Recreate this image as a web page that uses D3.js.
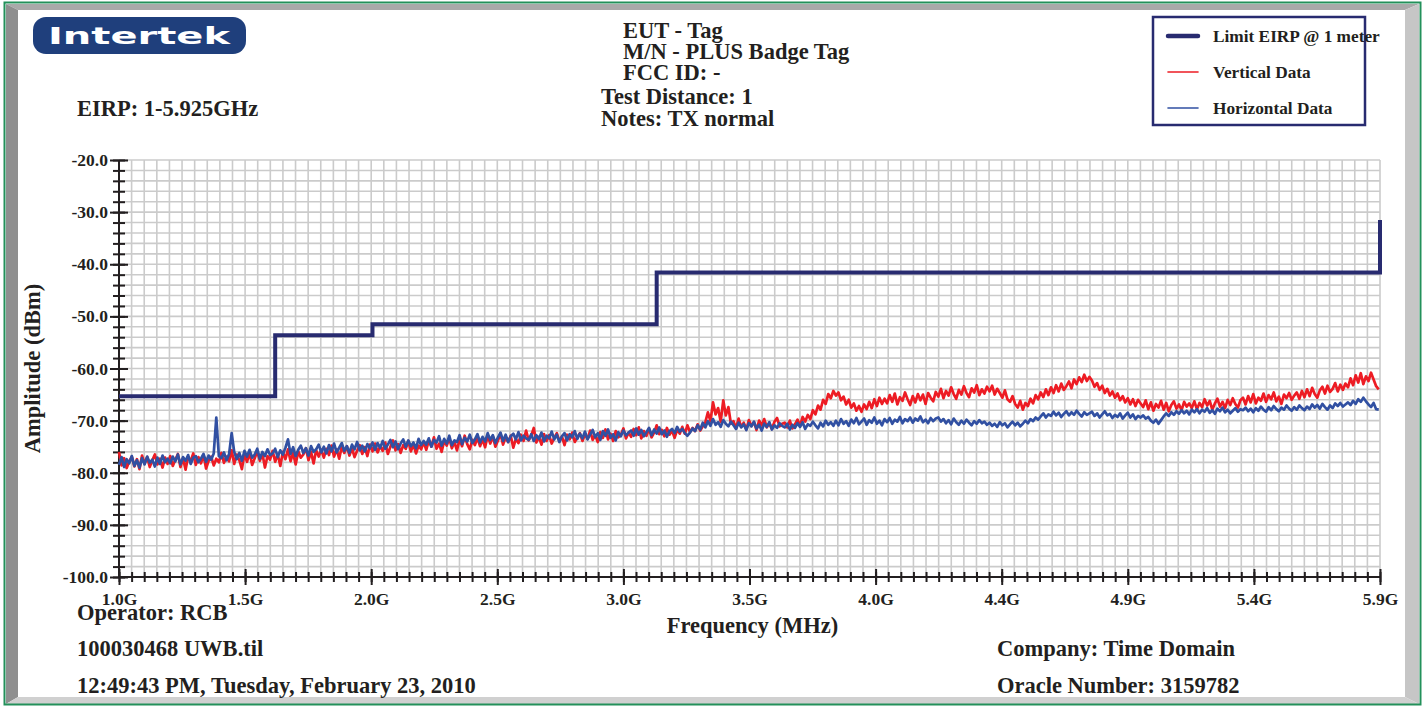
<!DOCTYPE html>
<html>
<head>
<meta charset="utf-8">
<script src="https://cdn.jsdelivr.net/npm/d3@7"></script>
<style>
body { margin: 0; background: #fff; }
svg { display: block; }
text { font-family: "Liberation Serif", "Times New Roman", serif; font-weight: bold; fill: #231f20; }
</style>
</head>
<body>
<script>
// sweep: 1.00 GHz .. 5.92 GHz, one reading every 10 MHz (one row = 200 MHz)
var freqStart = 1.0, freqStep = 0.01;

var verticalData = [
    -76.0, -78.6, -77.2, -79.1, -77.8, -76.9, -78.8, -77.4, -79.3, -76.7, -78.2, -77.0, -78.9, -77.6, -76.5, -78.4, -77.3, -79.0, -77.1, -78.3,
    -76.8, -78.7, -77.5, -76.4, -78.9, -77.2, -79.4, -76.9, -77.8, -76.3, -78.5, -77.0, -78.2, -76.6, -79.2, -77.7, -76.9, -78.6, -77.3, -78.0,
    -76.2, -78.1, -76.9, -77.8, -75.7, -78.3, -76.5, -77.6, -79.3, -76.4, -77.9, -76.1, -78.5, -77.2, -75.9, -77.7, -76.3, -79.0, -76.8, -77.5,
    -75.8, -77.9, -76.4, -78.7, -76.0, -77.4, -75.5, -77.8, -76.2, -78.4, -75.9, -77.1, -76.5, -75.3, -77.6, -76.0, -78.2, -75.7, -76.9, -75.6,
    -77.1, -75.4, -76.6, -74.8, -76.9, -75.5, -77.3, -75.0, -76.2, -74.9, -76.7, -75.3, -77.0, -75.8, -74.7, -76.4, -75.1, -76.8, -74.6, -75.9,
    -74.4, -76.1, -74.9, -75.8, -74.2, -76.4, -75.0, -73.8, -75.7, -74.5, -76.2, -74.7, -75.4, -73.9, -75.9, -74.6, -76.3, -74.8, -75.5, -74.1,
    -75.6, -73.8, -75.0, -73.2, -75.4, -74.4, -76.0, -73.9, -74.8, -73.4, -75.3, -74.1, -75.7, -73.6, -74.9, -72.9, -74.5, -75.5, -73.7, -74.7,
    -73.3, -74.9, -73.6, -75.1, -72.8, -74.4, -73.0, -75.0, -73.8, -72.5, -74.6, -73.2, -74.1, -72.9, -75.2, -73.5, -74.3, -72.7, -73.9, -71.9,
    -73.8, -72.9, -71.4, -74.2, -73.1, -74.6, -72.6, -73.9, -72.8, -74.4, -73.3, -72.4, -74.0, -73.0, -74.7, -72.7, -73.6, -72.3, -74.1, -73.2,
    -72.4, -73.9, -72.6, -73.5, -71.9, -73.7, -72.8, -74.1, -72.2, -73.3, -71.7, -73.6, -72.5, -73.9, -72.0, -73.2, -72.7, -71.5, -73.4, -72.3,
    -73.1, -71.6, -72.8, -71.3, -73.4, -72.0, -72.9, -71.5, -73.2, -72.3, -70.9, -72.6, -71.8, -73.0, -71.4, -72.7, -71.9, -73.3, -71.7, -72.5,
    -71.2, -72.5, -70.9, -72.2, -71.4, -72.0, -70.7, -71.9, -71.1, -70.3, -68.4, -70.1, -66.5, -68.8, -67.6, -70.2, -66.1, -69.0, -67.4, -70.6,
    -70.1, -71.5, -69.6, -71.2, -70.4, -71.7, -69.9, -71.0, -70.3, -71.8, -70.0, -70.9, -69.7, -71.3, -70.5, -71.6, -70.2, -69.5, -71.1, -70.6,
    -70.4, -71.3, -70.0, -71.5, -70.7, -69.8, -71.0, -69.3, -70.2, -68.9, -69.7, -68.0, -68.8, -67.1, -67.9, -66.0, -66.8, -64.9, -65.7, -64.3,
    -65.2, -64.6, -66.1, -65.4, -66.9, -66.0, -67.5, -66.7, -68.1, -67.2, -68.3, -66.9, -67.8, -66.4, -67.6, -65.9, -67.2, -65.6, -66.8, -65.8,
    -66.7, -65.1, -66.4, -64.8, -66.9, -65.5, -66.2, -64.6, -65.9, -67.0, -65.3, -66.5, -64.9, -66.1, -65.0, -66.8, -64.7, -65.6, -66.3, -64.5,
    -65.4, -63.9, -65.7, -64.3, -65.2, -63.6, -64.9, -65.8, -64.1, -65.0, -63.4, -64.7, -65.5, -63.8, -64.6, -63.2, -65.1, -64.0, -64.8, -63.5,
    -64.4, -63.3, -65.0, -63.9, -64.7, -65.6, -64.2, -65.9, -66.4, -65.3, -66.8, -67.5, -66.2, -67.9, -66.6, -67.2, -65.8, -66.7, -65.1, -65.9,
    -64.6, -65.5, -64.0, -65.1, -63.6, -64.7, -63.2, -64.4, -62.9, -64.1, -63.4, -62.5, -63.8, -62.1, -63.0, -61.7, -62.6, -61.2, -62.4, -61.6,
    -62.3, -63.5, -62.8, -64.1, -63.3, -64.7, -63.9, -65.2, -64.4, -65.6, -64.8, -66.1, -65.3, -66.5, -65.7, -66.9, -65.9, -67.2, -66.0, -66.7,
    -67.4, -66.1, -67.8, -66.5, -68.1, -66.8, -67.5, -66.2, -67.9, -66.6, -68.2, -67.0, -66.3, -67.7, -66.9, -68.0, -66.4, -67.3, -66.7, -67.6,
    -66.3, -67.8, -66.6, -67.4, -65.9, -67.1, -66.2, -67.9, -66.7, -65.8, -67.3, -66.4, -67.6, -66.0, -67.0, -65.7, -66.8, -67.5, -66.1, -65.6,
    -66.9, -65.3, -66.5, -64.9, -66.7, -65.6, -66.2, -64.8, -66.4, -65.1, -65.9, -64.6, -66.3, -65.4, -66.8, -65.0, -65.7, -64.7, -66.0, -65.2,
    -64.6, -65.8, -64.3, -65.5, -64.0, -65.3, -63.7, -64.9, -65.6, -64.2, -63.5, -64.8, -63.3, -64.5, -63.9, -62.8, -64.4, -63.1, -64.1, -62.9,
    -63.6, -61.9, -63.2, -61.3, -62.7, -60.9, -63.0, -61.5, -62.4, -60.8, -62.1, -63.4, -64.0
];

var horizontalData = [
    -78.5, -77.0, -78.9, -77.4, -78.2, -76.8, -78.7, -77.6, -79.0, -77.2, -78.4, -76.9, -78.1, -77.5, -78.8, -77.1, -78.3, -76.7, -78.0, -77.3,
    -78.2, -76.9, -77.8, -76.5, -78.4, -77.0, -77.7, -76.6, -78.3, -77.1, -76.8, -78.0, -77.3, -76.4, -77.9, -76.7, -77.5, -76.3, -69.4, -76.8,
    -77.2, -76.1, -77.6, -76.4, -72.4, -76.0, -77.4, -76.2, -77.7, -75.8, -76.9, -75.6, -77.1, -76.5, -75.4, -77.3, -76.0, -76.8, -75.5, -76.6,
    -76.3, -75.4, -77.0, -75.7, -76.5, -75.2, -73.6, -76.4, -75.1, -76.8, -75.6, -74.8, -76.2, -75.3, -76.7, -74.9, -76.0, -75.5, -74.6, -76.1,
    -75.0, -76.3, -74.7, -75.9, -74.4, -76.1, -75.2, -74.3, -75.8, -74.9, -76.2, -74.6, -75.5, -74.1, -75.7, -74.8, -75.9, -74.5, -75.3, -74.2,
    -75.6, -74.3, -75.2, -73.9, -75.4, -74.6, -73.7, -75.1, -74.0, -75.5, -74.4, -73.6, -75.0, -73.8, -74.9, -74.2, -75.3, -73.5, -74.7, -73.9,
    -74.6, -73.4, -75.0, -73.7, -74.2, -73.0, -74.8, -73.5, -74.4, -72.9, -74.7, -73.8, -74.1, -72.8, -74.5, -73.3, -74.0, -72.7, -74.3, -73.6,
    -72.6, -74.2, -73.1, -74.0, -72.4, -73.7, -72.8, -74.3, -73.2, -72.3, -73.9, -72.7, -74.1, -73.0, -72.5, -73.6, -72.2, -73.8, -72.9, -73.4,
    -73.7, -72.6, -73.9, -72.8, -73.5, -72.3, -74.0, -72.9, -73.4, -72.1, -73.6, -72.7, -74.1, -73.0, -72.4, -73.8, -72.6, -73.2, -72.0, -73.5,
    -72.5, -73.4, -72.1, -73.6, -72.7, -71.8, -73.2, -72.4, -73.7, -72.0, -72.9, -71.7, -73.3, -72.6, -73.8, -72.2, -73.0, -71.9, -72.8, -72.3,
    -71.9, -72.9, -71.5, -72.7, -71.8, -73.0, -72.2, -71.4, -72.8, -71.7, -72.5, -71.3, -72.6, -71.9, -73.1, -72.0, -71.6, -72.4, -71.2, -72.1,
    -71.6, -72.4, -72.9, -72.3, -71.5, -72.0, -70.9, -71.7, -70.4, -71.3, -70.1, -71.0, -69.7, -70.8, -70.3, -71.2, -69.9, -70.6, -71.1, -70.2,
    -70.9, -71.6, -70.4, -71.3, -70.7, -71.8, -70.5, -71.1, -70.2, -71.5, -70.8, -71.9, -70.6, -71.2, -70.3, -71.7, -70.9, -71.4, -70.5, -71.0,
    -71.3, -70.6, -71.7, -70.8, -71.4, -70.5, -71.2, -70.3, -71.6, -70.7, -71.0, -70.2, -70.9, -71.5, -70.4, -71.1, -70.0, -70.8, -70.3, -71.0,
    -70.0, -70.9, -69.7, -70.6, -70.1, -71.0, -69.8, -70.5, -69.5, -70.7, -70.2, -69.6, -70.8, -69.9, -70.4, -69.4, -70.6, -70.0, -70.9, -69.7,
    -70.3, -69.5, -70.6, -69.8, -70.2, -69.3, -70.5, -69.7, -70.1, -69.4, -70.4, -69.6, -70.0, -69.2, -70.3, -69.8, -70.5, -69.5, -70.1, -69.6,
    -69.4, -70.2, -69.7, -70.5, -69.9, -70.7, -69.6, -70.3, -70.8, -70.0, -70.6, -69.8, -70.4, -70.9, -70.1, -70.6, -69.9, -70.5, -70.2, -70.8,
    -70.4, -71.0, -70.6, -71.2, -70.3, -70.9, -70.5, -71.3, -70.7, -70.2, -70.9, -70.4, -71.1, -70.6, -70.0, -70.5, -69.7, -70.1, -69.4, -69.8,
    -69.2, -68.6, -69.4, -68.8, -69.1, -68.3, -69.0, -68.5, -69.3, -68.7, -68.2, -69.0, -68.4, -68.9, -68.1, -68.7, -69.2, -68.4, -68.9, -68.6,
    -68.3, -69.1, -68.6, -69.4, -68.8, -68.2, -69.0, -68.7, -69.5, -68.9, -69.3, -68.6, -69.6, -69.0, -68.5, -69.4, -68.8, -69.7, -69.1, -69.4,
    -69.0, -69.6, -69.3, -70.0, -70.4, -69.8, -70.6, -69.9, -69.2, -68.6, -69.1, -68.4, -68.9, -68.2, -68.7, -68.0, -68.6, -68.1, -68.8, -67.9,
    -68.4, -67.8, -68.6, -67.9, -68.3, -67.6, -68.5, -68.0, -68.7, -67.7, -68.2, -67.5, -68.4, -67.9, -68.6, -68.1, -67.6, -68.3, -67.8, -68.0,
    -67.5, -68.2, -67.7, -68.4, -67.6, -68.1, -67.3, -67.9, -68.3, -67.4, -68.0, -67.2, -67.8, -68.2, -67.5, -67.9, -67.1, -67.7, -68.1, -67.4,
    -67.9, -67.1, -67.6, -68.0, -67.3, -67.8, -66.9, -67.5, -67.0, -67.7, -66.8, -67.4, -67.9, -67.1, -67.6, -66.7, -67.2, -66.6, -67.3, -66.9,
    -66.5, -67.0, -66.2, -66.8, -65.9, -66.4, -65.6, -66.3, -66.9, -67.4, -66.6, -67.8, -67.9
];

// limit EIRP @ 1 meter (stepped)
var limitFreq = [1.0, 1.61, 1.61, 1.99, 1.99, 3.1, 3.1, 5.925, 5.925];
var limitDb = [-65.3, -65.3, -53.6, -53.6, -51.5, -51.5, -41.6, -41.6, -31.5];

var freqMin = 1.0, freqMax = 5.925;
var ampMin = -100, ampMax = -20;

var headerLines = ["EUT - Tag", "M/N - PLUS Badge Tag", "FCC ID: -"];
var noteLines = ["Test Distance: 1", "Notes: TX normal"];
var legendNames = ["Limit EIRP @ 1 meter", "Vertical Data", "Horizontal Data"];

var W = 1427, H = 707;
var plot = {left: 119, right: 1380, top: 160, bottom: 577};
var bigFont = "22.5px";

var svg = d3.select("body").append("svg")
    .attr("width", W)
    .attr("height", H);

// frame
svg.append("rect").attr("width", W).attr("height", H).attr("fill", "#fff");
var bevel = [
    {pts: [[6,4],[1419,4],[1405,10],[18,10]], fill: "#a9a9a9"},
    {pts: [[6,4],[18,10],[18,697],[6,704]], fill: "#8f8f8f"},
    {pts: [[1419,4],[1419,704],[1405,697],[1405,10]], fill: "#c6c6c6"},
    {pts: [[6,704],[18,697],[1405,697],[1419,704]], fill: "#d0d0d0"}
];
svg.selectAll("polygon.bevel").data(bevel).enter().append("polygon")
    .attr("class", "bevel")
    .attr("points", function(d) { return d.pts.join(" "); })
    .attr("fill", function(d) { return d.fill; });
svg.append("rect")
    .attr("x", 4.5).attr("y", 2.5)
    .attr("width", 1416).attr("height", 702)
    .attr("fill", "none")
    .attr("stroke", "#23905a")
    .attr("stroke-width", 2);

// logo
svg.append("rect")
    .attr("x", 33).attr("y", 17)
    .attr("width", 213).attr("height", 37)
    .attr("rx", 13)
    .attr("fill", "#1f3f7c");
svg.append("text")
    .attr("x", 48).attr("y", 44)
    .attr("textLength", 182)
    .attr("lengthAdjust", "spacingAndGlyphs")
    .style("font-family", "'DejaVu Sans', sans-serif")
    .style("font-size", "23px")
    .style("fill", "#fff")
    .text("Intertek");

svg.append("text").attr("x", 77).attr("y", 116)
    .style("font-size", bigFont).text("EIRP: 1-5.925GHz");

// header block
svg.selectAll("text.head").data(headerLines).enter().append("text")
    .attr("class", "head")
    .attr("x", 623)
    .attr("y", function(d, i) { return 38 + i * 21; })
    .style("font-size", bigFont)
    .text(function(d) { return d; });
svg.selectAll("text.note").data(noteLines).enter().append("text")
    .attr("class", "note")
    .attr("x", 601)
    .attr("y", function(d, i) { return 104 + i * 21.5; })
    .style("font-size", bigFont)
    .text(function(d) { return d; });

// scales
var x = d3.scaleLinear().domain([freqMin, freqMax]).range([plot.left, plot.right]);
var y = d3.scaleLinear().domain([ampMin, ampMax]).range([plot.bottom, plot.top]);

var xMajor = d3.range(0, 11).map(function(i) { return freqMin + i * (freqMax - freqMin) / 10; });
var xMinor = d3.range(0, 101).map(function(i) { return freqMin + i * (freqMax - freqMin) / 100; });
var yMajor = d3.range(ampMin, ampMax + 1, 10);
var yMinor = d3.range(ampMin, ampMax + 1, 2);

// grid
var grid = svg.append("g").attr("stroke", "#cbcbcb").attr("stroke-width", 1.6);
grid.selectAll("line.v").data(xMinor.slice(1)).enter().append("line")
    .attr("x1", function(d) { return x(d); }).attr("x2", function(d) { return x(d); })
    .attr("y1", plot.top).attr("y2", plot.bottom);
grid.selectAll("line.h").data(yMinor.slice(1)).enter().append("line")
    .attr("y1", function(d) { return y(d); }).attr("y2", function(d) { return y(d); })
    .attr("x1", plot.left).attr("x2", plot.right);

// axes
function styleAxis(g) {
    g.select(".domain").remove();
    g.selectAll("line").attr("stroke", "#231f20").attr("stroke-width", 2);
}
function fixed1(d) { return d.toFixed(1); }

var yMinorAxis = svg.append("g")
    .attr("transform", "translate(" + plot.left + ",0)")
    .call(d3.axisLeft(y).tickValues(yMinor).tickFormat(""));
yMinorAxis.call(styleAxis);
yMinorAxis.selectAll("line").attr("x1", 6).attr("x2", -6);

var yMajorAxis = svg.append("g")
    .attr("transform", "translate(" + plot.left + ",0)")
    .call(d3.axisLeft(y).tickValues(yMajor).tickFormat(fixed1).tickSize(9).tickPadding(2));
yMajorAxis.call(styleAxis);
yMajorAxis.selectAll("line").attr("x1", 9).attr("x2", -9);
yMajorAxis.selectAll("text")
    .attr("fill", null)
    .style("font-size", "17.5px")
    .style("font-family", null);

var xMinorAxis = svg.append("g")
    .attr("transform", "translate(0," + plot.bottom + ")")
    .call(d3.axisBottom(x).tickValues(xMinor).tickFormat(""));
xMinorAxis.call(styleAxis);
xMinorAxis.selectAll("line").attr("y1", -5).attr("y2", 5);

var xMajorAxis = svg.append("g")
    .attr("transform", "translate(0," + plot.bottom + ")")
    .call(d3.axisBottom(x).tickValues(xMajor)
        .tickFormat(function(d) { return fixed1(d) + "G"; })
        .tickSize(8).tickPadding(8));
xMajorAxis.call(styleAxis);
xMajorAxis.selectAll("line").attr("y1", -8).attr("y2", 8);
xMajorAxis.selectAll("text")
    .attr("fill", null)
    .style("font-size", "17.5px")
    .style("font-family", null);

svg.append("line")
    .attr("x1", plot.left).attr("x2", plot.left)
    .attr("y1", plot.top).attr("y2", plot.bottom)
    .attr("stroke", "#231f20").attr("stroke-width", 2);
svg.append("line")
    .attr("x1", plot.left).attr("x2", plot.right)
    .attr("y1", plot.bottom).attr("y2", plot.bottom)
    .attr("stroke", "#231f20").attr("stroke-width", 2);

// traces
function toPoints(values) {
    return values.map(function(v, i) { return {f: freqStart + i * freqStep, v: v}; });
}
var line = d3.line()
    .x(function(d) { return x(d.f); })
    .y(function(d) { return y(d.v); });

svg.append("path")
    .datum(toPoints(verticalData))
    .attr("d", line)
    .attr("fill", "none")
    .attr("stroke", "#ed1c24")
    .attr("stroke-width", 2.7)
    .attr("stroke-linejoin", "round");
svg.append("path")
    .datum(toPoints(horizontalData))
    .attr("d", line)
    .attr("fill", "none")
    .attr("stroke", "#3150a2")
    .attr("stroke-width", 2.7)
    .attr("stroke-linejoin", "round");

var limitPts = limitFreq.map(function(f, i) { return {f: f, v: limitDb[i]}; });
svg.append("path")
    .datum(limitPts)
    .attr("d", line)
    .attr("fill", "none")
    .attr("stroke", "#282b70")
    .attr("stroke-width", 4);

// axis titles
svg.append("text")
    .attr("transform", "translate(40," + (plot.top + plot.bottom) / 2 + ") rotate(-90)")
    .attr("text-anchor", "middle")
    .style("font-size", bigFont)
    .text("Amplitude (dBm)");
svg.append("text")
    .attr("x", (plot.left + plot.right) / 2 + 3).attr("y", 633)
    .attr("text-anchor", "middle")
    .style("font-size", bigFont)
    .text("Frequency (MHz)");

// footer
var footLeft = ["Operator: RCB", "100030468 UWB.til", "12:49:43 PM, Tuesday, February 23, 2010"];
var footLeftY = [620, 656, 693];
svg.selectAll("text.footl").data(footLeft).enter().append("text")
    .attr("class", "footl")
    .attr("x", 77)
    .attr("y", function(d, i) { return footLeftY[i]; })
    .style("font-size", bigFont)
    .text(function(d) { return d; });
var footRight = ["Company: Time Domain", "Oracle Number: 3159782"];
svg.selectAll("text.footr").data(footRight).enter().append("text")
    .attr("class", "footr")
    .attr("x", 997)
    .attr("y", function(d, i) { return 656 + i * 37; })
    .style("font-size", bigFont)
    .text(function(d) { return d; });

// legend
var legend = svg.append("g");
legend.append("rect")
    .attr("x", 1153).attr("y", 17)
    .attr("width", 212).attr("height", 108)
    .attr("fill", "#fff")
    .attr("stroke", "#282b70")
    .attr("stroke-width", 2.5);
var legendStyle = [
    {color: "#282b70", width: 4.5},
    {color: "#ed1c24", width: 1.6},
    {color: "#3150a2", width: 1.6}
];
var items = legend.selectAll("g.item").data(legendNames).enter().append("g")
    .attr("class", "item")
    .attr("transform", function(d, i) { return "translate(0," + (36 + i * 36) + ")"; });
items.append("line")
    .attr("x1", 1168).attr("x2", 1198)
    .attr("stroke", function(d, i) { return legendStyle[i].color; })
    .attr("stroke-width", function(d, i) { return legendStyle[i].width; })
    .attr("stroke-linecap", "round");
items.append("text")
    .attr("x", 1213).attr("y", 6)
    .style("font-size", "17.3px")
    .text(function(d) { return d; });
</script>
</body>
</html>
